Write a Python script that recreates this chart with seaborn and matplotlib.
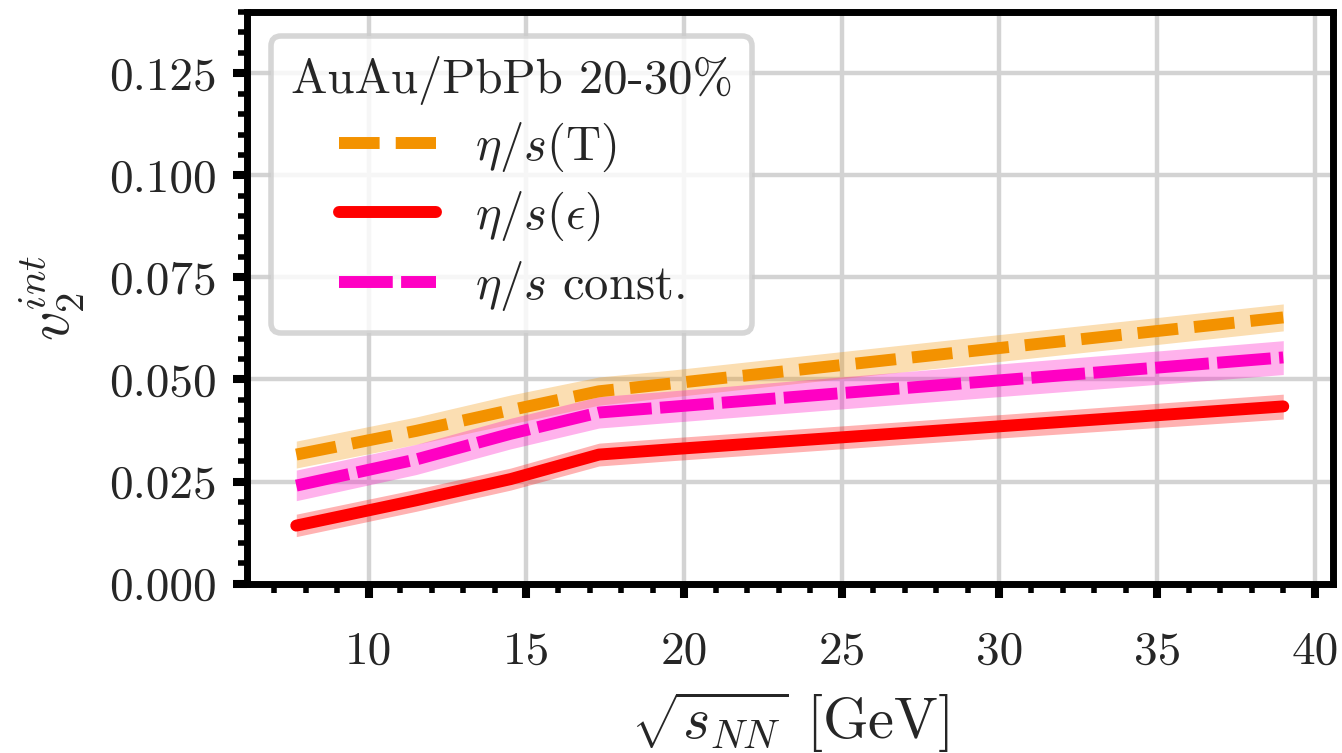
import matplotlib
matplotlib.use("Agg")
import matplotlib.pyplot as plt
from matplotlib.ticker import MultipleLocator, FormatStrFormatter
import pandas as pd
import seaborn as sns

# Collision energies (GeV) and integrated v2 for 20-30% centrality
energies = [7.7, 11.5, 14.5, 17.3, 19.6, 27.0, 39.0]

v2_eta_T = [0.0316, 0.0374, 0.0425, 0.0471, 0.0490, 0.0552, 0.0652]
v2_eta_T_lo = [0.0283, 0.0341, 0.0391, 0.0437, 0.0457, 0.0519, 0.0619]
v2_eta_T_hi = [0.0349, 0.0408, 0.0462, 0.0506, 0.0523, 0.0585, 0.0685]

v2_eta_eps = [0.0142, 0.0204, 0.0256, 0.0316, 0.0329, 0.0369, 0.0434]
v2_eta_eps_lo = [0.0115, 0.0177, 0.0229, 0.0288, 0.0301, 0.0341, 0.0403]
v2_eta_eps_hi = [0.0170, 0.0231, 0.0283, 0.0344, 0.0357, 0.0397, 0.0464]

v2_const = [0.0240, 0.0304, 0.0367, 0.0419, 0.0433, 0.0479, 0.0554]
v2_const_lo = [0.0203, 0.0267, 0.0330, 0.0381, 0.0395, 0.0440, 0.0512]
v2_const_hi = [0.0278, 0.0341, 0.0405, 0.0458, 0.0472, 0.0519, 0.0595]

labels = [r"$\eta/s(\mathrm{T})$", r"$\eta/s(\epsilon)$", r"$\eta/s$ const."]
legend_title = "AuAu/PbPb 20-30%"

sns.set_style("whitegrid")
plt.rcParams.update({
    "font.family": "serif",
    "font.serif": ["cmr10", "DejaVu Serif"],
    "mathtext.fontset": "cm",
    "axes.formatter.use_mathtext": True,
    "axes.unicode_minus": False,
})

fig = plt.figure(figsize=(6.71, 3.765), dpi=200)
ax = fig.add_axes([0.184, 0.225, 0.809, 0.759])

series = [
    (v2_eta_T, v2_eta_T_lo, v2_eta_T_hi, "#f39200", (0, (3.4, 1.35))),
    (v2_eta_eps, v2_eta_eps_lo, v2_eta_eps_hi, "#ff0000", "-"),
    (v2_const, v2_const_lo, v2_const_hi, "#ff00c3", (0, (4.5, 0.7))),
]

# uncertainty bands first, central curves on top
for mid, lo, hi, col, ls in series:
    ax.fill_between(energies, lo, hi, color=col, alpha=0.3, lw=0, zorder=2)

for (mid, lo, hi, col, ls), lab in zip(series, labels):
    df = pd.DataFrame({"energy": energies, "v2": mid})
    sns.lineplot(data=df, x="energy", y="v2", color=col, linestyle=ls,
                 lw=4.3, label=lab, errorbar=None, ax=ax, zorder=3)

ax.set_ylim(0, 0.14)
ax.margins(x=0.05)
ax.xaxis.set_major_locator(MultipleLocator(5))
ax.xaxis.set_minor_locator(MultipleLocator(1))
ax.yaxis.set_major_locator(MultipleLocator(0.025))
ax.yaxis.set_minor_locator(MultipleLocator(0.005))
ax.yaxis.set_major_formatter(FormatStrFormatter("%.3f"))
ax.xaxis.set_major_formatter(FormatStrFormatter("%d"))

ax.grid(True, which="major", color="#d3d3d3", lw=1.6)
ax.grid(False, which="minor")
for sp in ax.spines.values():
    sp.set_color("black")
    sp.set_linewidth(2.5)
    sp.set_zorder(5)

ax.tick_params(which="major", direction="out", length=5, width=2.9,
               color="black", labelsize=17, pad=6, bottom=True, left=True,
               top=False, right=False)
ax.tick_params(which="minor", direction="out", length=3.2, width=2.0,
               color="black", bottom=True, left=True, top=False, right=False)
ax.tick_params(axis="x", pad=12)

ax.set_xlabel(r"$\sqrt{s_{NN}}$ [GeV]", fontsize=21, labelpad=6)
ax.set_ylabel(r"$v_2^{int}$", fontsize=21, labelpad=8)

leg = ax.legend(title=legend_title, loc="upper left", fontsize=17.5,
                title_fontsize=17.5, frameon=True, fancybox=True,
                framealpha=0.8, edgecolor="0.8", handlelength=2.0,
                handletextpad=0.8, borderaxespad=0.5, labelspacing=0.33)
leg.get_frame().set_linewidth(2.0)

fig.savefig("out.png", dpi=200)
